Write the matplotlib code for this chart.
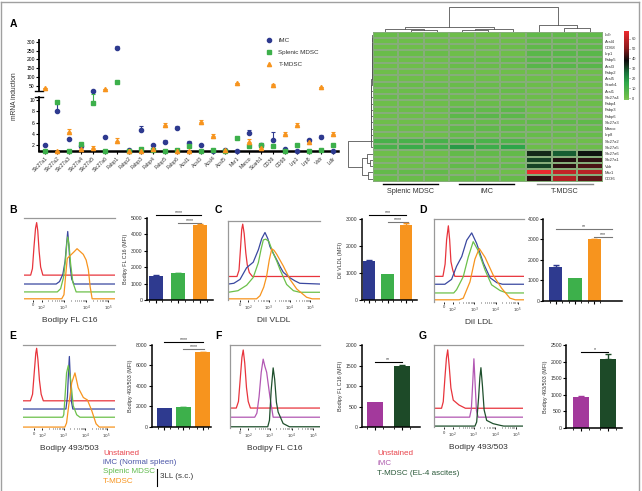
import numpy as np
import matplotlib
matplotlib.use('Agg')
import matplotlib.pyplot as plt
from matplotlib.colors import LinearSegmentedColormap
from matplotlib.lines import Line2D

plt.rcParams['font.family'] = ['Liberation Sans', 'DejaVu Sans']
plt.rcParams['mathtext.fontset'] = 'dejavusans'

# ---------------- DATA ----------------
genes = ['Slc27a1', 'Slc27a2', 'Slc27a3', 'Slc27a4', 'Slc27a5', 'Slc27a6', 'Fabp1', 'Fabp2',
         'Fabp3', 'Fabp4', 'Fabp5', 'Fabp6', 'Acsl1', 'Acsl3', 'Acsl4', 'Acsl5', 'Msr1',
         'Marco', 'Scarb1', 'CD36', 'CD68', 'Lrp1', 'Lrp8', 'Vldr', 'Ldlr']
imc_vals = [2.0, 8.0, 3.0, 1.8, 22, 3.4, 262, 1.05, 4.6, 2.0, 2.6, 5.0, 2.4, 2.0, 1.0, 1.2,
            1.0, 4.1, 2.0, 2.9, 1.3, 1.0, 2.9, 3.5, 1.0]
imc_err = [0, 1.2, 0, 0, 3, 0.2, 15, 0, 0.7, 0, 0.3, 0.4, 0.3, 0, 0, 0.1, 0, 0.5, 0, 1.4,
           0, 0, 0.2, 0.3, 0]
spl_vals = [1.0, 9.6, 1.0, 2.2, 9.5, 1.0, 73, 1.0, 1.3, 1.2, 1.0, 1.2, 1.8, 1.0, 1.2, 1.0,
            3.3, 1.8, 2.1, 1.9, 1.0, 2.0, 1.0, 1.2, 2.0]
spl_err = [0, 0.3, 0, 0.2, 1.5, 0, 3, 0, 0.1, 0, 0, 0.1, 0.2, 0, 0.1, 0, 0.2, 0.3, 0, 0.3,
           0, 0, 0, 0, 0]
tm_vals = [35, 1.0, 4.3, 1.3, 1.5, 30, 2.7, 1.0, 1.0, 1.3, 5.6, 1.0, 1.0, 6.1, 3.6, 1.1, 63,
           2.6, 1.4, 54, 3.9, 5.6, 2.6, 41, 3.9]
tm_err = [3, 0, 0.5, 0.2, 0.3, 3, 0.5, 0, 0, 0.2, 0.4, 0, 0, 0.3, 0.3, 0, 3, 0.4, 0.2, 3,
          0.4, 0.3, 0.3, 3, 0.4]
series_names = ['iMC', 'Splenic MDSC', 'T-MDSC']

hm_rows = ['Ldlr', 'Acsl4', 'CD68', 'Lrp1', 'Fabp5', 'Acsl3', 'Fabp2', 'Acsl5', 'Scarb1',
           'Acsl1', 'Slc27a4', 'Fabp4', 'Fabp3', 'Fabp6', 'Slc27a3', 'Marco', 'Lrp8',
           'Slc27a2', 'Slc27a5', 'Slc27a6', 'Slc27a1', 'Vldr', 'Msr1', 'CD36']
hm_groups = ['Splenic MDSC', 'iMC', 'T-MDSC']
hm_values = [
    [2, 2, 2, 1, 1, 1, 4, 4, 4],
    [1.2, 1.2, 1.2, 1, 1, 1, 3.6, 3.6, 3.6],
    [1, 1, 1, 1.3, 1.3, 1.3, 4.5, 4.5, 4.5],
    [2, 2, 2, 1, 1, 1, 5.6, 5.6, 5.6],
    [1, 1, 1, 2.6, 2.6, 2.6, 5.6, 5.6, 5.6],
    [1, 1, 1, 2, 2, 2, 6.1, 6.1, 6.1],
    [1, 1, 1, 1, 1, 1, 1, 1, 1],
    [1, 1, 1, 1.2, 1.2, 1.2, 1.1, 1.1, 1.1],
    [2.1, 2.1, 2.1, 2, 2, 2, 1.4, 1.4, 1.4],
    [1.8, 1.8, 1.8, 2.4, 2.6, 2.4, 1, 1, 1],
    [2.2, 2.2, 2.2, 1.8, 1.8, 1.8, 1.3, 1.3, 1.3],
    [1.2, 1.2, 1.2, 2, 2, 2, 1.3, 1.3, 1.3],
    [1.3, 1.3, 1.5, 4.6, 4.0, 4.8, 1, 1, 1],
    [1.2, 1.2, 1.2, 5, 5.5, 5, 1, 1, 1],
    [1, 1, 1, 3, 3, 3, 4.3, 4.3, 4.3],
    [1.8, 1.8, 1.8, 4.1, 4.1, 4.1, 2.6, 2.6, 2.6],
    [1, 1, 1, 2.9, 2.9, 2.9, 2.6, 2.6, 2.6],
    [9.6, 9.6, 9.6, 8, 9, 8, 1, 1, 1],
    [9.5, 13, 11, 18, 12, 16, 1.5, 1.5, 1.5],
    [1, 1, 1, 3.4, 3.4, 3.4, 34, 28, 37],
    [1, 1, 1, 2, 2, 2, 31, 40, 41],
    [1.2, 1.2, 1.2, 3.5, 3.5, 3.5, 31, 41, 44],
    [3.3, 3.3, 3.3, 1, 1, 1, 67, 60, 58],
    [1.9, 1.9, 1.9, 2.9, 2.9, 2.9, 41, 57, 46],
]
cbar_ticks = [0, 10, 20, 30, 40, 50, 60]
# dendrograms: (left, right, height)
col_tree = (((0, (1, 2, 1.5), 2.7), ((3, 4, 1.3), 5, 2.5), 5.0), (6, (7, 8, 3.4), 6.7), 25.0)
row_chain_heights = [0.5 + 0.1 * i for i in range(18)]
row_bottom = ((19, (20, 21, 3.0), 6.0), (22, 23, 5.0), 11.0)
row_root_height = 24.7

# Bar charts
bar_B = [1460, 1650, 4600]; err_B = [40, 20, 40]
bar_C = [1430, 950, 2780]; err_C = [50, 0, 60]
bar_D = [1650, 1100, 3000]; err_D = [120, 0, 40]
bar_E = [1800, 1900, 7300]; err_E = [0, 40, 60]
bar_F = [620, 1480]; err_F = [0, 40]
bar_G = [930, 2070]; err_G = [15, 160]

# Histograms (x in log-decade units, y = height above trace baseline, % of panel)
hist_B = {
    'Unstained': ([1.15, 1.50, 1.58, 1.65, 1.72, 1.77, 1.82, 1.88, 1.95, 2.05, 5.35],
                  [0, 0, 8, 35, 58, 65, 55, 30, 10, 0, 0]),
    'iMC': ([1.15, 2.65, 2.8, 2.95, 3.05, 3.12, 3.17, 3.22, 3.28, 3.35, 3.45, 5.35],
            [0, 0, 3, 12, 28, 50, 65, 48, 22, 6, 0, 0]),
    'Splenic MDSC': ([1.15, 2.7, 2.85, 2.98, 3.07, 3.13, 3.17, 3.23, 3.3, 3.4, 3.55, 5.35],
                     [0, 0, 4, 18, 40, 60, 68, 58, 35, 12, 0, 0]),
    'T-MDSC': ([1.15, 2.9, 3.0, 3.08, 3.15, 3.3, 3.45, 3.59, 3.75, 3.87, 4.0, 4.1, 4.18, 4.27, 5.35],
               [0, 0, 5, 30, 50, 54, 58, 62, 58, 55, 48, 36, 15, 0, 0]),
}
hist_C = {
    'Unstained': ([1.03, 1.45, 1.55, 1.62, 1.68, 1.73, 1.8, 1.88, 1.95, 2.05, 2.2, 5.5],
                  [0, 0, 8, 35, 60, 67, 55, 30, 15, 5, 0, 0]),
    'iMC': ([1.03, 1.3, 1.6, 1.92, 2.24, 2.49, 2.65, 2.81, 2.95, 3.05, 3.2, 3.38, 3.55, 3.7, 4.02, 4.27, 4.5, 5.5],
            [0, 1, 6, 21, 28, 44, 58, 66, 58, 48, 40, 31, 22, 15, 8, 4, 1, 0]),
    'Splenic MDSC': ([1.03, 1.5, 1.92, 2.24, 2.49, 2.62, 2.73, 2.85, 3.0, 3.21, 3.38, 3.54, 3.86, 4.19, 4.5, 5.5],
                     [0, 2, 9, 19, 38, 55, 67, 68, 65, 50, 40, 29, 10, 2, 0, 0]),
    'T-MDSC': ([1.03, 2.4, 2.57, 2.75, 2.89, 3.02, 3.14, 3.25, 3.38, 3.7, 4.02, 4.35, 4.83, 5.1, 5.5],
               [0, 0, 4, 15, 29, 50, 64, 62, 57, 42, 25, 12.6, 2, 0, 0]),
}
hist_D = {
    'Unstained': ([1.15, 1.55, 1.65, 1.72, 1.8, 1.86, 1.92, 2.0, 2.1, 5.3],
                  [0, 0, 15, 45, 62, 45, 18, 8, 0, 0]),
    'iMC': ([1.15, 1.64, 1.95, 2.18, 2.42, 2.65, 2.88, 3.11, 3.42, 3.73, 4.04, 4.3, 5.3],
            [0, 0, 6, 22, 34, 54, 63, 50, 26, 8, 2, 0, 0]),
    'Splenic MDSC': ([1.15, 2.05, 2.18, 2.49, 2.72, 2.95, 3.18, 3.5, 3.8, 4.19, 4.5, 5.3],
                     [0, 0, 4, 20, 44, 63, 52, 28, 10, 3, 0, 0]),
    'T-MDSC': ([1.15, 2.3, 2.49, 2.8, 3.03, 3.23, 3.5, 3.88, 4.27, 4.65, 4.9, 5.3],
               [0, 0, 2, 22, 50, 63, 52, 30, 14, 2, 0, 0]),
}
hist_E = {
    'Unstained': ([1.12, 1.45, 1.55, 1.63, 1.7, 1.74, 1.8, 1.87, 1.95, 2.05, 5.38],
                  [0, 0, 8, 35, 58, 64, 50, 25, 8, 0, 0]),
    'iMC': ([1.12, 3.1, 3.17, 3.22, 3.26, 3.3, 3.35, 3.42, 5.38],
            [0, 0, 15, 45, 64, 40, 10, 0, 0]),
    'Splenic MDSC': ([1.12, 2.95, 3.0, 3.06, 3.13, 3.21, 3.32, 3.44, 3.6, 3.75, 5.38],
                     [0, 0, 3, 26, 54, 63, 46, 14, 3, 0, 0]),
    'T-MDSC': ([1.12, 3.05, 3.13, 3.21, 3.37, 3.52, 3.67, 3.91, 4.1, 4.3, 4.5, 4.65, 5.38],
               [0, 0, 5, 22, 54, 66, 48, 36, 33, 20, 4, 0, 0]),
}
hist_F = {
    'Unstained': ([1.16, 1.45, 1.55, 1.63, 1.71, 1.77, 1.84, 1.92, 2.0, 2.1, 5.31],
                  [0, 0, 8, 35, 62, 71, 55, 25, 8, 0, 0]),
    'iMC': ([1.16, 2.3, 2.4, 2.5, 2.6, 2.69, 2.77, 2.85, 3.0, 3.15, 5.31],
            [0, 0, 5, 25, 55, 71, 62, 55, 25, 0, 0]),
    'T-MDSC': ([1.16, 2.9, 2.98, 3.06, 3.15, 3.22, 3.3, 3.38, 3.61, 3.9, 5.31],
               [0, 0, 8, 45, 72, 58, 30, 18, 4, 0, 0]),
}
hist_G = {
    'Unstained': ([1.14, 1.48, 1.56, 1.64, 1.71, 1.77, 1.84, 1.92, 2.03, 2.3, 2.6, 5.32],
                  [0, 0, 8, 38, 62, 72, 52, 25, 10, 4, 0, 0]),
    'iMC': ([1.14, 2.8, 2.88, 2.95, 3.0, 3.05, 3.12, 3.2, 5.32],
            [0, 0, 10, 45, 72, 45, 8, 0, 0]),
    'T-MDSC': ([1.14, 3.05, 3.13, 3.22, 3.28, 3.33, 3.4, 3.48, 3.6, 3.9, 4.22, 4.4, 5.32],
               [0, 0, 5, 35, 60, 72, 50, 20, 7, 3, 1, 0, 0]),
}
hist_tick_pos = [1.6, 2, 3, 4, 5]
hist_tick_lab = ['0', '$10^2$', '$10^3$', '$10^4$', '$10^5$']

# ---------------- STYLE ----------------
C_BLUE = '#2e3a8f'; C_GREEN = '#3db04b'; C_ORANGE = '#f7941e'
C_MAG = '#a3399c'; C_DKG = '#1d4a28'
H_RED = '#e8343c'; H_BLUE = '#3a48a0'; H_GREEN = '#6cc04a'; H_ORANGE = '#f7941e'
H_PURPLE = '#b257b3'; H_DKG = '#1e4f2c'
TXT = '#333333'

W, H = 642, 491
fig = plt.figure(figsize=(W / 100, H / 100), dpi=100)


def add_ax(l, t, r, b):
    return fig.add_axes([l / W, 1 - b / H, (r - l) / W, (b - t) / H])


# figure frame
for xs, ys in [([1.5, 1.5], [1.5, 491]), ([1.5, 639], [1.5, 1.5]), ([639, 639], [1.5, 491])]:
    fig.add_artist(Line2D([x / W for x in xs], [1 - y / H for y in ys], color='#a0a0a0', lw=1.0))

# panel letters
for lab, (px, py) in {'A': (13, 24), 'B': (13, 210), 'C': (218, 210), 'D': (423, 210),
                      'E': (13, 336), 'F': (218, 336), 'G': (423, 336)}.items():
    fig.text(px / W, 1 - py / H, lab, fontsize=7.5, fontweight='bold', ha='center', va='center')

# ---------------- PANEL A ----------------
ax_up = add_ax(39, 40, 338, 91)
ax_lo = add_ax(39, 97, 338, 150.7)
xpos = np.arange(len(genes))
series = [(imc_vals, imc_err, C_BLUE, 'o'), (spl_vals, spl_err, C_GREEN, 's'),
          (tm_vals, tm_err, C_ORANGE, '^')]
handles = []
for vals, err, c, m in series:
    v = np.array(vals, float); e = np.array(err, float)
    lo = np.where(v <= 10.6, v, np.nan)
    up = np.where(v >= 15, v, np.nan)
    ax_lo.errorbar(xpos, lo, yerr=[np.zeros_like(e), e], fmt=m, color=c, ms=3.0,
                   elinewidth=0.8, capsize=1.6, capthick=0.8, clip_on=False, zorder=4)
    h = ax_up.errorbar(xpos, up, yerr=[np.zeros_like(e), e], fmt=m, color=c, ms=3.0,
                       elinewidth=0.8, capsize=1.6, capthick=0.8, clip_on=False, zorder=4)
    handles.append(h[0])
for ax in (ax_up, ax_lo):
    ax.set_xlim(-0.5, 24.45)
    ax.spines['top'].set_visible(False)
    ax.spines['right'].set_visible(False)
    ax.spines['left'].set_linewidth(1.3)
    ax.tick_params(axis='y', labelsize=3.6, length=2, width=0.8, pad=1)
    ax.patch.set_alpha(0)
ax_up.spines['bottom'].set_visible(False)
ax_up.set_xticks([])
ax_up.set_ylim(20, 310)
ax_up.set_yticks([50, 100, 150, 200, 250, 300])
ax_lo.set_ylim(1.0, 10.53)
ax_lo.set_yticks([2, 4, 6, 8, 10])
ax_lo.spines['bottom'].set_linewidth(1.8)
ax_lo.set_xticks(xpos)
ax_lo.set_xticklabels(genes, rotation=45, ha='right', rotation_mode='anchor', fontsize=3.8,
                      color=TXT)
ax_lo.tick_params(axis='x', length=2, width=0.8, pad=1.5)
ax_up.plot([-0.012, 0.012], [0, 0], transform=ax_up.transAxes, color='k', lw=1.0, clip_on=False)
ax_lo.plot([-0.012, 0.012], [1, 1], transform=ax_lo.transAxes, color='k', lw=1.0, clip_on=False)
fig.text(15 / W, 1 - 96 / H, 'mRNA induction', rotation=90, fontsize=4.8, ha='center',
         va='center', color=TXT)
fig.legend(handles, series_names, loc='upper left', bbox_to_anchor=(266 / W, 1 - 38 / H),
           frameon=False, fontsize=4.5, handlelength=1.0, handletextpad=1.0, labelspacing=1.05,
           borderaxespad=0, borderpad=0, labelcolor=TXT)

# ---------------- HEATMAP ----------------
cmap = LinearSegmentedColormap.from_list('gkr', [(0.0, '#80c75c'), (0.03, '#71bf4a'),
                                                 (0.25, '#2ea84a'), (0.40, '#17703a'),
                                                 (0.50, '#16301c'), (0.57, '#0c0c0c'),
                                                 (0.75, '#8c1c1e'), (1.0, '#ef2a2f')])
ax_hm = add_ax(372.7, 31.7, 602.7, 181.7)
mesh = ax_hm.pcolormesh(np.array(hm_values), cmap=cmap, vmin=-2, vmax=68,
                        edgecolors='#86ad7a', linewidth=0.15)
ax_hm.set_xlim(0, 9); ax_hm.set_ylim(24, 0)
ax_hm.set_xticks([])
ax_hm.set_yticks(np.arange(len(hm_rows)) + 0.5)
ax_hm.set_yticklabels(hm_rows, fontsize=3.0, color=TXT)
ax_hm.yaxis.tick_right()
ax_hm.tick_params(axis='y', length=0, pad=1.5)
for s in ax_hm.spines.values():
    s.set_visible(False)
grp_spans = [(0.4, 2.56, 'k'), (3.38, 5.53, 'k'), (6.42, 8.62, '#888888')]
for (a, b, c), name in zip(grp_spans, hm_groups):
    ax_hm.plot([a, b], [24.37, 24.37], color=c, lw=1.0, clip_on=False)
    ax_hm.text((a + b) / 2, 25.6, name, ha='center', va='center', fontsize=5.2, color=TXT)

cax = add_ax(624, 30.7, 628.7, 100)
cb = fig.colorbar(mesh, cax=cax, ticks=cbar_ticks)
cb.outline.set_visible(False)
cb.ax.tick_params(labelsize=2.8, length=1, width=0.4, pad=1, colors=TXT)


def draw_tree(ax, node, orient, color='#555555', lw=0.6):
    if isinstance(node, int):
        return node + 0.5, 0.0
    l, r, h = node
    pl, hl = draw_tree(ax, l, orient, color, lw)
    pr, hr = draw_tree(ax, r, orient, color, lw)
    if orient == 'top':
        ax.plot([pl, pl, pr, pr], [hl, h, h, hr], color=color, lw=lw)
    else:
        ax.plot([hl, h, h, hr], [pl, pl, pr, pr], color=color, lw=lw)
    return (pl + pr) / 2, h


ax_td = add_ax(372.7, 5, 602.7, 31.7)
draw_tree(ax_td, col_tree, 'top')
ax_td.set_xlim(0, 9); ax_td.set_ylim(0, 26.7); ax_td.axis('off')

ax_ld = add_ax(345, 31.7, 372.7, 181.7)
row_tree = 0
for i, hh in enumerate(row_chain_heights):
    row_tree = (row_tree, i + 1, hh)
row_tree = (row_tree, row_bottom, row_root_height)
draw_tree(ax_ld, row_tree, 'left')
ax_ld.set_ylim(24, 0); ax_ld.set_xlim(27.7, 0); ax_ld.axis('off')


# ---------------- BAR PANELS ----------------
def bar_panel(box, xlim, vals, errs, colors, width, ylim, ystep, ylabel, sigs):
    ax = add_ax(*box)
    x = np.arange(len(vals))
    ax.bar(x, vals, width, color=colors, zorder=2)
    for xi, v, e, c in zip(x, vals, errs, colors):
        if e > 0:
            ax.errorbar([xi], [v], yerr=[[0], [e]], color=c, elinewidth=1.0, capsize=2.2,
                        capthick=1.0, zorder=3)
    ax.set_xlim(*xlim); ax.set_ylim(*ylim)
    ax.set_yticks(np.arange(ylim[0], ylim[1] + 1, ystep))
    ax.set_xticks(x); ax.set_xticklabels([])
    ax.set_xticks(np.concatenate([x - 0.3, x + 0.3]), minor=True)
    for s in ('top', 'right'):
        ax.spines[s].set_visible(False)
    ax.spines['left'].set_linewidth(1.1)
    ax.spines['bottom'].set_linewidth(1.1)
    ax.tick_params(axis='y', labelsize=3.7, length=2, width=0.8, pad=1, colors='k',
                   labelcolor=TXT)
    ax.tick_params(axis='x', which='major', length=2.5, width=0.8)
    ax.tick_params(axis='x', which='minor', length=1.2, width=0.6)
    ax.set_ylabel(ylabel, fontsize=3.9, labelpad=2, color=TXT)
    for x1, x2, y, txt, c in sigs:
        ax.plot([x1, x2], [y, y], color=c, lw=0.8, clip_on=False)
        ax.text((x1 + x2) / 2, y, txt, ha='center', va='bottom', fontsize=3.8, color=TXT)
    return ax


GRAY = '#777777'
bar_panel((146.7, 218, 213.3, 300), (-0.41, 2.6), bar_B, err_B, [C_BLUE, C_GREEN, C_ORANGE],
          0.65, (0, 5000), 1000, 'Bodipy FL C16 (MFI)',
          [(0, 2.05, 5183, '****', 'k'), (1.0, 2.05, 4720, '****', GRAY)])
bar_panel((361.7, 219, 416.7, 300), (-0.41, 2.58), bar_C, err_C, [C_BLUE, C_GREEN, C_ORANGE],
          0.67, (0, 3000), 1000, 'DiI VLDL (MFI)',
          [(0, 2.0, 3148, '***', 'k'), (1.0, 2.1, 2900, '****', GRAY)])
bar_panel((543.3, 219, 621.7, 300.7), (-0.65, 3.43), bar_D, err_D, [C_BLUE, C_GREEN, C_ORANGE],
          0.68, (0, 4000), 1000, 'DiI LDL (MFI)',
          [(0, 2.9, 3495, '**', GRAY), (2.0, 2.9, 3133, '***', GRAY)])
bar_panel((151.7, 345, 211, 426.7), (-0.65, 2.44), bar_E, err_E, [C_BLUE, C_GREEN, C_ORANGE],
          0.78, (0, 8000), 2000, 'Bodipy 493/503 (MFI)',
          [(0, 2.04, 8264, '****', 'k'), (1.0, 2.05, 7608, '****', GRAY)])
bar_panel((361.7, 345, 420, 427.3), (-0.49, 1.67), bar_F, err_F, [C_MAG, C_DKG],
          0.62, (0, 2000), 500, 'Bodipy FL C16 (MFI)',
          [(0, 1, 1575, '**', 'k')])
bar_panel((566, 345, 621.7, 427.7), (-0.58, 1.53), bar_G, err_G, [C_MAG, C_DKG],
          0.61, (0, 2500), 500, 'Bodipy 493/503 (MFI)',
          [(0, 1, 2298, '*', 'k')])


# ---------------- HISTOGRAM PANELS ----------------
def hist_panel(box, xlim, traces, colors, baselines, xlabel, left_spine):
    ax = add_ax(*box)
    for (name, (xs, ys)), c, b in zip(traces.items(), colors, baselines):
        ax.plot(xs, np.array(ys) + b, color=c, lw=0.9)
    ax.set_xlim(*xlim); ax.set_ylim(-1.5, 100)
    ax.set_yticks([])
    ax.set_xticks(hist_tick_pos)
    ax.set_xticklabels(hist_tick_lab, fontsize=3.0, color=TXT)
    ax.set_xticks([d + np.log10(k) for d in (2, 3, 4) for k in range(2, 10)], minor=True)
    ax.tick_params(axis='x', which='major', length=1.5, width=0.6, pad=1)
    ax.tick_params(axis='x', which='minor', length=0.8, width=0.4)
    ax.spines['right'].set_visible(False)
    ax.spines['bottom'].set_visible(False)
    ax.spines['top'].set_color('#999999'); ax.spines['top'].set_linewidth(0.9)
    ax.spines['left'].set_visible(left_spine)
    ax.spines['left'].set_color('#999999'); ax.spines['left'].set_linewidth(0.9)
    ax.set_xlabel(xlabel, fontsize=6, color=TXT, labelpad=3)
    return ax


col4 = [H_RED, H_BLUE, H_GREEN, H_ORANGE]
col3 = [H_RED, H_PURPLE, H_DKG]
hist_panel((24, 218, 115, 300), (1.2, 5.3), hist_B, col4, [29.3, 18.3, 8.5, 0],
           'Bodipy FL C16', False)
hist_panel((228.3, 220.7, 320, 300), (1.03, 5.48), hist_C, col4, [28.6, 18.9, 8.4, 0],
           'DiI VLDL', True)
hist_panel((434.3, 219.3, 524, 302), (1.15, 5.3), hist_D, col4, [30, 20.3, 9.6, 1.2],
           'DiI LDL', True)
hist_panel((23.3, 345, 115, 428.3), (1.12, 5.38), hist_E, col4, [32, 22, 12, 0],
           'Bodipy 493/503', False)
hist_panel((230, 345, 320, 428), (1.16, 5.31), hist_F, col3, [22.9, 11.7, 0],
           'Bodipy FL C16', True)
hist_panel((434.3, 345, 523.3, 427.3), (1.14, 5.32), hist_G, col3, [22, 11, 0],
           'Bodipy 493/503', True)

# ---------------- TEXT LEGENDS ----------------
leg1 = [('Unstained', '#e8434b'), ('iMC (Normal spleen)', '#4a55a8'),
        ('Splenic MDSC', '#5fbb4c'), ('T-MDSC', '#f7941e')]
for i, (t, c) in enumerate(leg1):
    fig.text(103 / W, 1 - (453.3 + 9.3 * i) / H, t, color=c, fontsize=5.8, va='center')
fig.add_artist(Line2D([156.7 / W, 156.7 / W], [1 - 469 / H, 1 - 486 / H], color='k', lw=0.8))
fig.text(160 / W, 1 - 477 / H, '3LL (s.c.)', fontsize=5.8, va='center', color=TXT)
leg2 = [('Unstained', '#e8434b'), ('iMC', '#b05fb0'), ('T-MDSC (EL-4 ascites)', '#2b5a3a')]
for i, (t, c) in enumerate(leg2):
    fig.text(377.3 / W, 1 - (453.3 + 10 * i) / H, t, color=c, fontsize=5.8, va='center')

fig.savefig('out.png', dpi=100)
